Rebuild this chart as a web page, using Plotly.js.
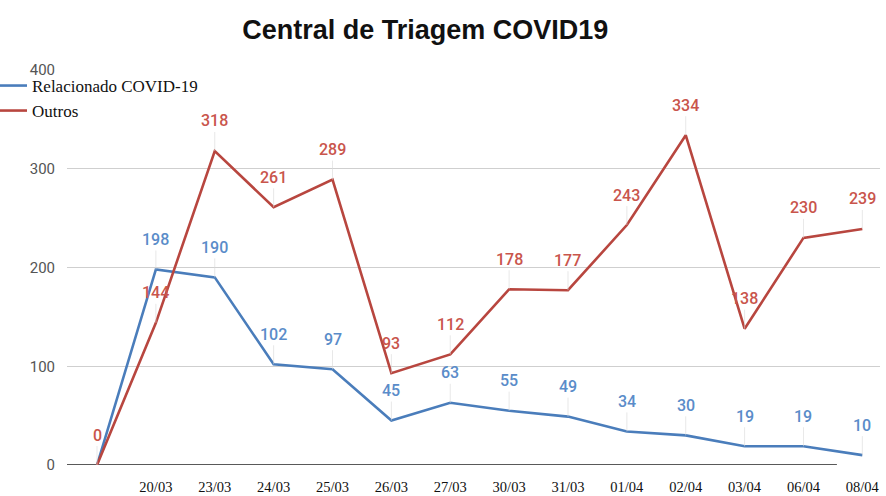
<!DOCTYPE html>
<html>
<head>
<meta charset="utf-8">
<script src="https://cdn.plot.ly/plotly-3.0.1.min.js"></script>
<style>html,body{margin:0;padding:0;background:#fff;}#chart{width:886px;height:496px;}</style>
</head>
<body>
<div id="chart"></div>
<script>
const categories = ["", "20/03", "23/03", "24/03", "25/03", "26/03", "27/03", "30/03", "31/03", "01/04", "02/04", "03/04", "06/04", "08/04"];
const covid = [0, 198, 190, 102, 97, 45, 63, 55, 49, 34, 30, 19, 19, 10];
const outros = [0, 144, 318, 261, 289, 93, 112, 178, 177, 243, 334, 138, 230, 239];
const yTicks = [0, 100, 200, 300, 400];

const blue = "#4a7dbb", blueLabel = "#5a8cc9";
const red = "#b8463f", redLabel = "#c9554c";
const idx = categories.map((_, i) => i);

const traces = [
  {x: idx, y: covid, type: "scatter", mode: "lines", name: "Relacionado COVID-19",
   line: {color: blue, width: 2.6}, legend: "legend", hoverinfo: "y"},
  {x: idx, y: outros, type: "scatter", mode: "lines", name: "Outros",
   line: {color: red, width: 2.6}, legend: "legend2", hoverinfo: "y"}
];

const annotations = [];
function addLabels(vals, color, skipFirst) {
  vals.forEach((v, i) => {
    if (skipFirst && i === 0) return;
    annotations.push({x: i, y: v, xref: "x", yref: "y", text: String(v),
      showarrow: true, arrowhead: 0, arrowwidth: 0.6, arrowcolor: "#d9d9d9",
      ax: 0, ay: -30, standoff: 0,
      font: {family: "Roboto, Arial, sans-serif", size: 16, color: color, weight: 500}});
  });
}
addLabels(covid, blueLabel, true);
addLabels(outros, redLabel, false);

const plotW = 886 - 67 - 6, plotH = 496 - 70 - 31;
const legendFont = {family: "Liberation Serif, Times New Roman, serif", size: 17, color: "#111"};
const layout = {
  width: 886, height: 496,
  margin: {l: 67, r: 6, t: 70, b: 31, autoexpand: false},
  paper_bgcolor: "#fff", plot_bgcolor: "#fff",
  title: {text: "<b>Central de Triagem COVID19</b>", x: 0.48, xanchor: "center", y: 0.94, yanchor: "middle",
    font: {family: "Liberation Sans, Arial, sans-serif", size: 27, color: "#111"}},
  xaxis: {range: [-0.51, 13.3], tickmode: "array", tickvals: idx, ticktext: categories,
    showgrid: false, zeroline: false, showline: false, ticks: "outside", ticklen: 9, tickcolor: "rgba(0,0,0,0)",
    tickfont: {family: "Liberation Serif, Times New Roman, serif", size: 14.5, color: "#111"}, fixedrange: true},
  yaxis: {range: [0, 400], tickmode: "array", tickvals: yTicks, ticktext: yTicks.map(String),
    showgrid: true, gridcolor: "#cfcfcf", gridwidth: 1, zeroline: false, showline: false,
    ticks: "outside", ticklen: 8, tickcolor: "rgba(0,0,0,0)",
    tickfont: {family: "Roboto, Arial, sans-serif", size: 15, color: "#555"}, fixedrange: true},
  showlegend: true,
  legend: {x: (-8 - 67) / plotW, xref: "paper", y: 1 - (68 - 70) / plotH, yref: "paper", xanchor: "left", yanchor: "top",
    bgcolor: "rgba(0,0,0,0)", itemwidth: 30, font: legendFont},
  legend2: {x: (-8 - 67) / plotW, xref: "paper", y: 1 - (93 - 70) / plotH, yref: "paper", xanchor: "left", yanchor: "top",
    bgcolor: "rgba(0,0,0,0)", itemwidth: 30, font: legendFont},
  shapes: [{type: "line", xref: "paper", yref: "y", x0: 0, x1: 0.947, y0: 0, y1: 0,
    line: {color: "#222", width: 1.3}, layer: "below"}],
  annotations: annotations
};

Plotly.newPlot("chart", traces, layout, {displayModeBar: false, staticPlot: true});
</script>
</body>
</html>
